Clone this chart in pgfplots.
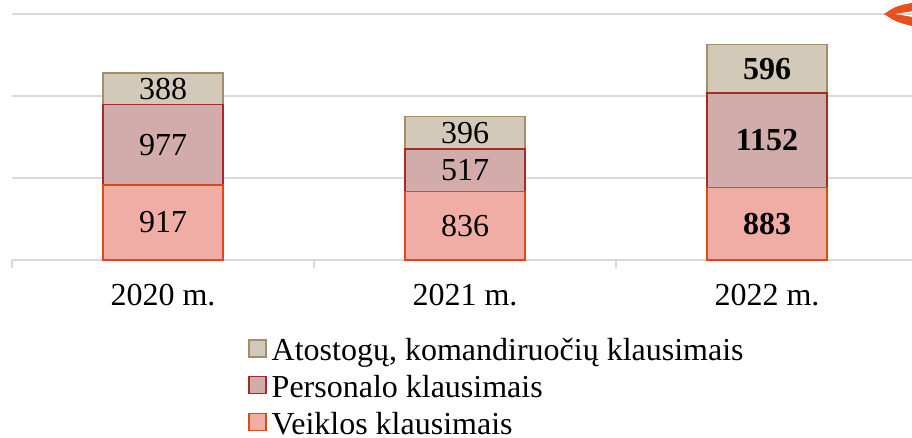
\documentclass[border=0pt]{standalone}
\usepackage{fontspec}
\setmainfont{Liberation Serif}
\usepackage{pgfplots}
\pgfplotsset{compat=1.18}

\definecolor{atoFill}{HTML}{D3C9B9}
\definecolor{atoEdge}{HTML}{A48E6A}
\definecolor{perFill}{HTML}{D2ABAB}
\definecolor{perEdge}{HTML}{A62B22}
\definecolor{veiFill}{HTML}{F0ADA5}
\definecolor{veiEdge}{HTML}{DC4A1A}
\definecolor{gridc}{HTML}{D9D9D9}
\definecolor{swoosh}{HTML}{E8501E}

\newcommand\bigfont{\fontsize{32}{36}\selectfont}

\begin{document}
\begin{tikzpicture}[x=1pt,y=1pt]
\useasboundingbox (0,0) rectangle (912,438);
\begin{axis}[
  at={(12pt,178pt)}, anchor=south west,
  scale only axis, width=906pt, height=246pt,
  ybar stacked, bar width=120pt,
  xmin=-0.5, xmax=2.5, ymin=0, ymax=3000,
  clip=false,
  axis x line*=bottom, axis y line*=left,
  x axis line style={draw=gridc, line width=1.5pt},
  y axis line style={draw=none},
  ytick={1000,2000,3000}, yticklabels={}, ytick style={draw=none},
  ymajorgrids, grid style={draw=gridc, line width=1.5pt},
  xtick={0,1,2}, xticklabels={2020 m.,2021 m.,2022 m.},
  xtick style={draw=none},
  xticklabel style={font=\bigfont, yshift=-21pt},
  extra x ticks={-0.5,0.5,1.5,2.5}, extra x tick labels={},
  extra x tick style={tick align=outside, major tick length=8pt,
    xtick style={draw=gridc, line width=1.5pt}, grid=none},
  visualization depends on={value \thisrow{v} \as \rawv},
  visualization depends on={value \thisrow{b} \as \isb},
  nodes near coords={\ifnum\isb=1 \bfseries\fi\rawv},
  every node near coord/.append style={anchor=center, font=\bigfont},
  legend reversed,
  legend style={draw=none, fill=none, inner sep=0pt, row sep=6pt,
    at={(axis description cs:0.2605,-0.298)}, anchor=north west,
    font=\bigfont, cells={anchor=west}},
  legend image code/.code={\draw[#1, line width=1.5pt] (0pt,-8pt) rectangle (17pt,9pt); \path (20pt,0pt);},
]
\addplot[fill=veiFill, draw=veiEdge, line width=1.5pt] table[x=x, y=v] {
x v b
0 917 0
1 836 0
2 883 1
};
\addlegendentry{\rule{0pt}{25.2pt}Veiklos klausimais}
\addplot[fill=perFill, draw=perEdge, line width=1.5pt] table[x=x, y=v] {
x v b
0 977 0
1 517 0
2 1152 1
};
\addlegendentry{\strut Personalo klausimais}
\addplot[fill=atoFill, draw=atoEdge, line width=1.5pt] table[x=x, y=v] {
x v b
0 388 0
1 396 0
2 596 1
};
\addlegendentry{\strut Atostogų, komandiruočių klausimais}
% orange decoration cut off at the top right
\fill[swoosh] (axis cs:2.3874,3000) .. controls (axis cs:2.4272,3098) .. (axis cs:2.5,3150)
  -- (axis cs:2.5,3045) .. controls (axis cs:2.44,3010) .. (axis cs:2.42,3000)
  .. controls (axis cs:2.44,2990) .. (axis cs:2.5,2951)
  -- (axis cs:2.5,2835) .. controls (axis cs:2.4272,2902) .. cycle;
\end{axis}
\end{tikzpicture}
\end{document}
